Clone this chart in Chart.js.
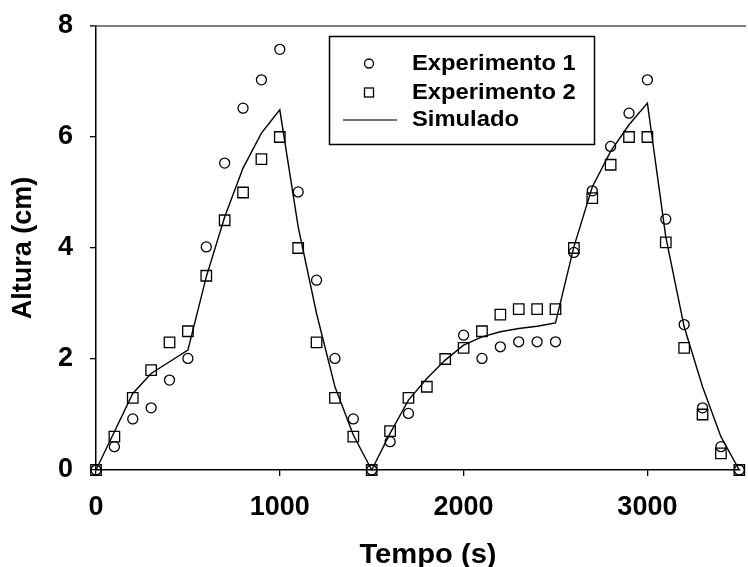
<!DOCTYPE html>
<html>
<head>
<meta charset="utf-8">
<script src="https://cdn.jsdelivr.net/npm/chart.js@4.4.0/dist/chart.umd.min.js"></script>
<style>
html,body{margin:0;padding:0;background:#fff;}
#wrap{width:748px;height:567px;}
</style>
</head>
<body>
<div id="wrap"><canvas id="c" width="748" height="567"></canvas></div>
<script>
const times = [0,100,200,300,400,500,600,700,800,900,1000,1100,1200,1300,1400,1500,1600,1700,1800,1900,2000,2100,2200,2300,2400,2500,2600,2700,2800,2900,3000,3100,3200,3300,3400,3500];
const experimento1 = [0,0.42,0.92,1.12,1.62,2.01,4.02,5.53,6.52,7.03,7.58,5.01,3.42,2.01,0.92,0,0.51,1.02,null,null,2.43,2.01,2.22,2.31,2.31,2.31,3.92,5.03,5.83,6.43,7.03,4.52,2.62,1.12,0.42,0];
const experimento2 = [0,0.6,1.3,1.8,2.3,2.5,3.5,4.5,5.0,5.6,6.0,4.0,2.3,1.3,0.6,0,0.7,1.3,1.5,2.0,2.2,2.5,2.8,2.9,2.9,2.9,4.0,4.9,5.5,6.0,6.0,4.1,2.2,1.0,0.3,0];
const simulado = [0,0.69,1.38,1.74,1.95,2.16,3.48,4.56,5.44,6.07,6.49,4.38,2.82,1.50,0.63,0,0.66,1.26,1.65,1.98,2.25,2.40,2.49,2.55,2.59,2.65,4.02,5.10,5.74,6.22,6.61,4.20,2.58,1.50,0.60,0];
const xTicks = [0,1000,2000,3000];
const yTicks = [0,2,4,6,8];
const seriesNames = ['Experimento 1','Experimento 2','Simulado'];
const xTitle = 'Tempo (s)';
const yTitle = 'Altura (cm)';

const toXY = arr => times.map((t,i)=>({x:t,y:arr[i]}));
const FONT = '"Liberation Sans", Arial, sans-serif';

const framePlugin = {
  id:'frameExtras',
  afterDraw(chart){
    const {ctx, chartArea} = chart;
    ctx.save();
    ctx.strokeStyle = '#555';
    ctx.lineWidth = 1.5;
    ctx.beginPath();
    ctx.moveTo(chartArea.left - 6, chartArea.top);
    ctx.lineTo(746, chartArea.top);
    ctx.stroke();
    ctx.fillStyle = '#000';
    ctx.font = 'bold 27px ' + FONT;
    ctx.textAlign = 'center';
    ctx.textBaseline = 'middle';
    ctx.translate(428, 556);
    ctx.scale(1.08, 1);
    ctx.fillText(xTitle, 0, 0);
    ctx.restore();
  }
};

const legendPlugin = {
  id:'boxLegend',
  afterDraw(chart){
    const {ctx} = chart;
    ctx.save();
    ctx.strokeStyle = '#000';
    ctx.lineWidth = 1.5;
    ctx.strokeRect(329.5, 36.5, 265, 108);
    const rows = [63.5, 92.5, 120];
    const mx = 369;
    ctx.fillStyle = '#000';
    chart.data.datasets.forEach((ds, i) => {
      const y = rows[i];
      ctx.strokeStyle = '#000';
      ctx.lineWidth = 1.3;
      if (ds.showLine === false) {
        if (ds.pointStyle === 'circle') {
          ctx.beginPath(); ctx.arc(mx, y, 4.5, 0, Math.PI*2); ctx.stroke();
        } else {
          ctx.strokeRect(mx-4.5, y-4.5, 9, 9);
        }
      } else {
        ctx.strokeStyle = '#444';
        ctx.lineWidth = 1.5;
        ctx.beginPath(); ctx.moveTo(343, y); ctx.lineTo(397, y); ctx.stroke();
      }
      ctx.save();
      ctx.font = 'bold 22px ' + FONT;
      ctx.textBaseline = 'middle';
      ctx.textAlign = 'left';
      ctx.translate(412, y);
      ctx.scale(1.08, 1);
      ctx.fillText(ds.label, 0, 0);
      ctx.restore();
    });
    ctx.restore();
  }
};

new Chart(document.getElementById('c'), {
  type:'scatter',
  data:{
    datasets:[
      {label:seriesNames[0], data:toXY(experimento1), showLine:false, clip:false, pointStyle:'circle', pointRadius:5, pointBorderWidth:1.3, pointBorderColor:'#000', pointBackgroundColor:'rgba(0,0,0,0)', pointHoverRadius:5},
      {label:seriesNames[1], data:toXY(experimento2), showLine:false, clip:false, pointStyle:'rect', pointRadius:7.4, pointBorderWidth:1.3, pointBorderColor:'#000', pointBackgroundColor:'rgba(0,0,0,0)', pointHoverRadius:7.4},
      {label:seriesNames[2], data:toXY(simulado), showLine:true, clip:false, borderColor:'#000', borderWidth:1.4, pointRadius:0, pointHoverRadius:0, fill:false, tension:0}
    ]
  },
  options:{
    responsive:false,
    animation:false,
    devicePixelRatio:1,
    layout:{padding:{top:26,right:7,left:0,bottom:0}},
    plugins:{legend:{display:false}, tooltip:{enabled:false}},
    scales:{
      x:{
        type:'linear', min:0, max:3500,
        afterBuildTicks(s){ s.ticks = xTicks.map(v=>({value:v})); },
        afterFit(s){ s.height = 97; s.paddingLeft = 0; s.paddingRight = 0; },
        grid:{drawOnChartArea:false, drawTicks:true, tickLength:6, color:'#000', lineWidth:1.3},
        border:{display:true, color:'#000', width:1.5},
        ticks:{padding:15, color:'#000', font:{family:FONT, weight:'bold', size:27}, maxRotation:0, callback:v=>String(v)},
        title:{display:false}
      },
      y:{
        type:'linear', min:0, max:8,
        afterBuildTicks(s){ s.ticks = yTicks.map(v=>({value:v})); },
        afterFit(s){ s.width = 96; s.paddingTop = 0; s.paddingBottom = 0; },
        grid:{drawOnChartArea:false, drawTicks:true, tickLength:6, color:'#000', lineWidth:1.3},
        border:{display:true, color:'#000', width:1.5},
        ticks:{padding:17, color:'#000', font:{family:FONT, weight:'bold', size:27}, callback:v=>String(v)},
        title:{display:true, text:yTitle, color:'#000', font:{family:FONT, weight:'bold', size:27}, padding:{top:7,bottom:0}}
      }
    }
  },
  plugins:[framePlugin, legendPlugin]
});
</script>
</body>
</html>
